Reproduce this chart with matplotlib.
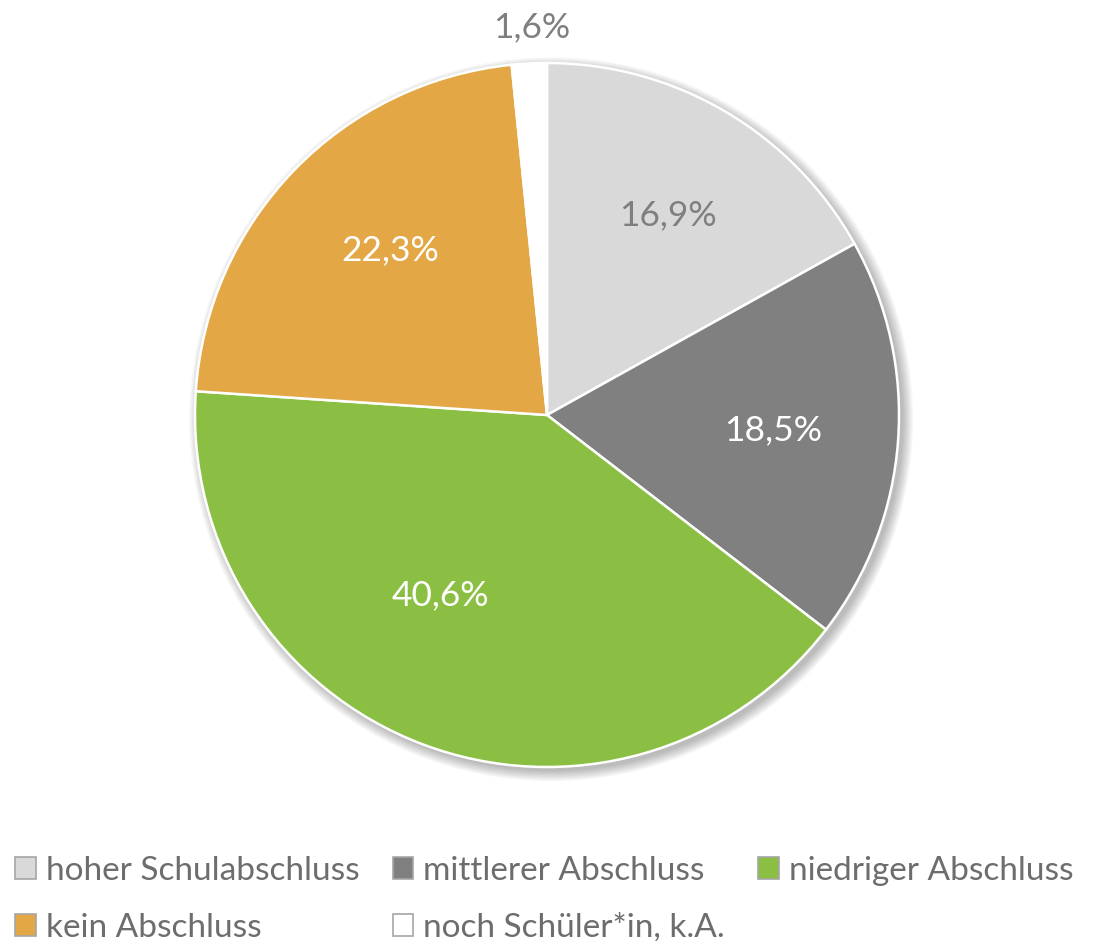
import matplotlib.pyplot as plt
from matplotlib.patches import Circle

labels = ["hoher Schulabschluss", "mittlerer Abschluss", "niedriger Abschluss",
          "kein Abschluss", "noch Schüler*in, k.A."]
values = [16.9, 18.5, 40.6, 22.3, 1.6]
colors = ["#d9d9d9", "#808080", "#8bbf43", "#e3a845", "#ffffff"]
label_colors = ["#7f7f7f", "white", "white", "white", "#7f7f7f"]

plt.rcParams['font.family'] = ['Lato', 'DejaVu Sans']

fig = plt.figure(figsize=(10.98, 9.41), dpi=100)
ax = fig.add_axes([547/1098 - 352/1098, 1 - (415 + 352)/941, 704/1098, 704/941])

# soft shadow behind the pie
for i in range(8):
    ax.add_patch(Circle((0.012, -0.012), 1.0 + 0.004 * i, color="#000000",
                        alpha=0.035, lw=0, zorder=0, clip_on=False))

wedges, _ = ax.pie(values, colors=colors, startangle=90, counterclock=False,
                   radius=1.0, wedgeprops=dict(edgecolor="white", linewidth=1.8))
for w in wedges:
    w.set_zorder(2)
ax.set_xlim(-1, 1)
ax.set_ylim(-1, 1)
ax.set_aspect('equal')
ax.axis('off')

# data labels
label_pos = [(668, 215), (773, 430), (440, 595), (390, 250), (532, 27)]
for v, (px, py), c in zip(values, label_pos, label_colors):
    fig.text(px / 1098, 1 - py / 941, f"{v:.1f}%".replace(".", ","),
             color=c, fontsize=25.5, ha="center", va="center")

# legend, row-wise order
order = [0, 3, 1, 4, 2]
leg = fig.legend([wedges[i] for i in order], [labels[i] for i in order],
                 ncol=3, loc="lower left", bbox_to_anchor=(15/1098, -0.002),
                 frameon=False, fontsize=24, handlelength=0.62, handleheight=0.62,
                 handletextpad=0.3, columnspacing=1.0, labelspacing=0.82,
                 borderpad=0, borderaxespad=0, labelcolor="#6d6d6d")
for h in leg.legend_handles:
    h.set_edgecolor("#a6a6a6")
    h.set_linewidth(1.2)

fig.savefig("out.png", dpi=100)
